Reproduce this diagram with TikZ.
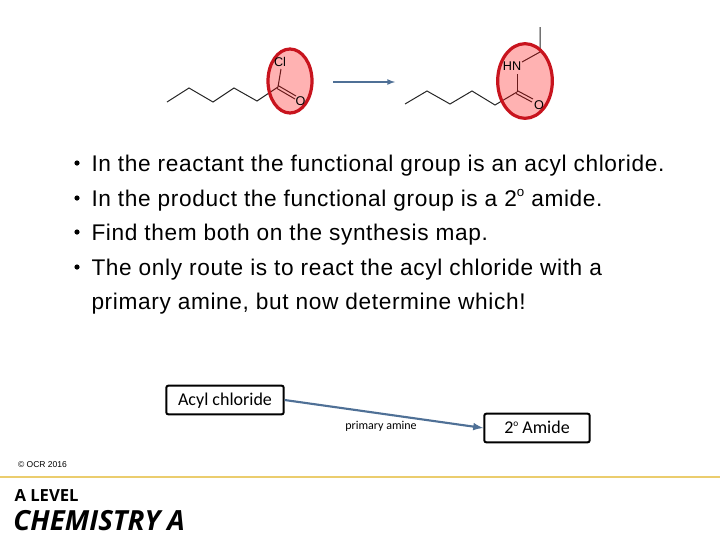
\documentclass[tikz,border=0pt]{standalone}
\usepackage{fontspec}
\usepackage{tikz}
\usetikzlibrary{shapes.geometric}
\setmainfont{Liberation Sans}
\newfontfamily\spacedfont[LetterSpace=2.8]{Liberation Sans}
\newfontfamily\boxfont{Carlito}
\newfontfamily\logofont{Open Sans}
\definecolor{arrowblue}{RGB}{79,112,150}
\definecolor{ringred}{RGB}{200,20,30}
\definecolor{ruleyellow}{RGB}{235,205,110}
\tikzset{every picture/.style={line width=0.75pt}}
\tikzset{
  bond/.style={line width=0.75pt,black!85},
  ring/.style={draw=ringred,line width=2.4pt,fill=red,fill opacity=0.3,draw opacity=1,inner sep=0pt},
  atom/.style={font=\fontsize{9.5}{11}\selectfont,inner sep=0.75pt},
  bullettext/.style={anchor=base west,inner sep=0pt,font=\spacedfont\fontsize{17}{18}\selectfont},
  mapbox/.style={draw,line width=1.5pt,rounded corners=1.5pt,fill=white,font=\boxfont\fontsize{13.5}{14}\selectfont,minimum height=21.5pt,inner sep=0pt},
  maparrow/.style={draw=arrowblue,line width=1.6pt,-latex},
}

\begin{document}
\begin{tikzpicture}[x=0.75pt,y=0.75pt,yscale=-1,xscale=1]
\useasboundingbox (0,0) rectangle (720,540);

% reactant
\draw[bond] (167,102) -- (189,88) -- (213,102) -- (234,88) -- (257,101) -- (278,87);
\draw[bond] (278,87) -- (281,69);
\draw[bond] (278,85.5) -- (296,96);
\draw[bond] (277,88.5) -- (295,99);
\draw (290,81) node [ring,ellipse,minimum width=33pt,minimum height=48pt] (ringcl) {};
\draw (280,62) node [atom] (cl) {Cl};
\draw (300.5,101.5) node [atom] (oa) {O};

% product
\draw[bond] (405,104) -- (427,91) -- (450,104) -- (472,91) -- (495,105) -- (517,92);
\draw[bond] (517,92) -- (517,74);
\draw[bond] (522,62) -- (540,52) -- (540,27);
\draw[bond] (517,90.5) -- (533,99);
\draw[bond] (516,93.5) -- (532,102);
\draw (525,81) node [ring,ellipse,minimum width=41pt,minimum height=56pt] (ringam) {};
\draw (512,66) node [atom] (hn) {HN};
\draw (539,105.5) node [atom] (ob) {O};

% top arrow
\coordinate (ta) at (333,82);
\coordinate (tb) at (395,82);
\draw [draw=arrowblue,line width=1pt,-latex] (ta) -- (tb);

% bullets
\foreach \yy in {163,198,232,267} {
  \fill (77,\yy) circle (2.6);
}
\draw (91,171) node [bullettext] (la) {In the reactant the functional group is an acyl chloride.};
\draw (91,206) node [bullettext] (lb) {In the product the functional group is a 2\raisebox{0.42em}{\fontsize{10}{10}\selectfont o} amide.};
\draw (91,240) node [bullettext] (lc) {Find them both on the synthesis map.};
\draw (91,275) node [bullettext] (ld) {The only route is to react the acyl chloride with a};
\draw (91,309) node [bullettext] (le) {primary amine, but now determine which!};

% map
\draw (225,400) node [mapbox,minimum width=88pt,text height=9pt,text depth=1pt] (acyl) {Acyl chloride};
\draw (537,428) node [mapbox,minimum width=79pt,text height=9pt,text depth=1pt] (amide) {2\raisebox{0.38em}{\fontsize{7}{7}\selectfont o} Amide};
\draw [maparrow] (acyl.east) -- (amide.west);
\draw (381,426) node [font=\boxfont\fontsize{9}{10}\selectfont] (reagent) {primary amine};

% footer
\draw (42.5,465) node [font=\fontsize{6.4}{7}\selectfont] (copy) {© OCR 2016};
\coordinate (ra) at (0,477);
\coordinate (rb) at (720,477);
\draw [ruleyellow,line width=0.9pt] (ra) -- (rb);
\draw (14,496) node [anchor=west,inner sep=0pt,font=\logofont\bfseries\fontsize{12.5}{13}\selectfont] (alevel) {A LEVEL};
\draw (13,521) node [anchor=west,inner sep=0pt,font=\logofont\bfseries\itshape\fontsize{20.8}{22}\selectfont] (chem) {CHEMISTRY A};
\end{tikzpicture}
\end{document}
